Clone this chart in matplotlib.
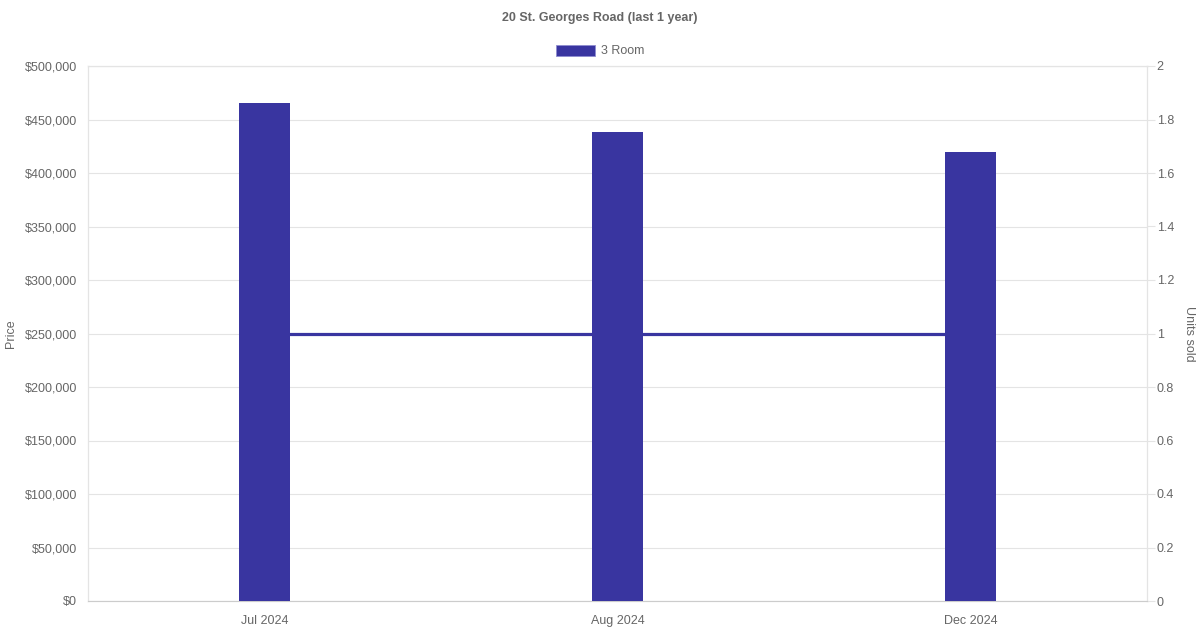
import numpy as np
import matplotlib
matplotlib.use('Agg')
import matplotlib.pyplot as plt
from matplotlib.ticker import FuncFormatter

plt.rcParams['font.family'] = ['Liberation Sans', 'DejaVu Sans']

months = ['Jul 2024', 'Aug 2024', 'Dec 2024']
prices = [465000, 438000, 420000]
units_sold = [1, 1, 1]

color = '#3935a0'
text_col = '#666666'
grid_col = '#e4e4e4'

fig = plt.figure(figsize=(12, 6.3), dpi=100)
ax = fig.add_axes([88/1200, 1-601/630, (1147-88)/1200, 535/630])
ax2 = ax.twinx()

x = np.arange(len(months))
ax.bar(x, prices, width=0.142, color=color, zorder=3)
# units line drawn on the price axes but in the units scale, so it sits over the grid
ax.plot(x, units_sold, color=color, lw=2.3, zorder=2, transform=ax2.transData)
ax.set_zorder(ax2.get_zorder() + 1)
ax.patch.set_visible(False)

ax.set_xlim(-0.5, len(months) - 0.5)
ax.set_ylim(0, 500000)
ax.set_yticks(np.arange(0, 500001, 50000))
ax.yaxis.set_major_formatter(FuncFormatter(lambda v, p: '${:,.0f}'.format(v)))
ax.set_xticks(x)
ax.set_xticklabels(months)
ax2.set_ylim(0, 2)
ax2.set_yticks(np.arange(0, 2.01, 0.2))
ax2.yaxis.set_major_formatter(FuncFormatter(lambda v, p: '{:g}'.format(round(v, 1))))

ax.grid(axis='y', color=grid_col, lw=0.8, zorder=0)
ax.grid(axis='x', visible=False)
ax2.grid(False)

for a in (ax, ax2):
    for s in a.spines.values():
        s.set_color(grid_col)
        s.set_linewidth(0.8)
ax.spines['bottom'].set_color('#cccccc')

ax.tick_params(axis='y', length=0, pad=8, labelsize=9, labelcolor=text_col)
ax.tick_params(axis='x', length=0, pad=10, labelsize=9, labelcolor=text_col)
ax2.tick_params(axis='y', length=6, color=grid_col, pad=1, labelsize=9, labelcolor=text_col)

ax.set_ylabel('Price', color=text_col, fontsize=9, va='center')
ax.yaxis.set_label_coords(-0.0727, 0.5)
ax2.set_ylabel('Units sold', color=text_col, fontsize=9, rotation=270, va='center')
ax2.yaxis.set_label_coords(1.0397, 0.5)

fig.text(0.5, 1-17/630, '20 St. Georges Road (last 1 year)', ha='center', va='center_baseline',
         fontsize=9, fontweight='bold', color=text_col)
fig.patches.append(plt.Rectangle((556/1200, 1-56/630), 39/1200, 11/630, transform=fig.transFigure,
                                 facecolor=color, edgecolor='#8f8cd0', lw=0.6))
fig.text(601/1200, 1-50/630, '3 Room', ha='left', va='center_baseline', fontsize=9, color=text_col)

plt.savefig('out.png', dpi=100)
